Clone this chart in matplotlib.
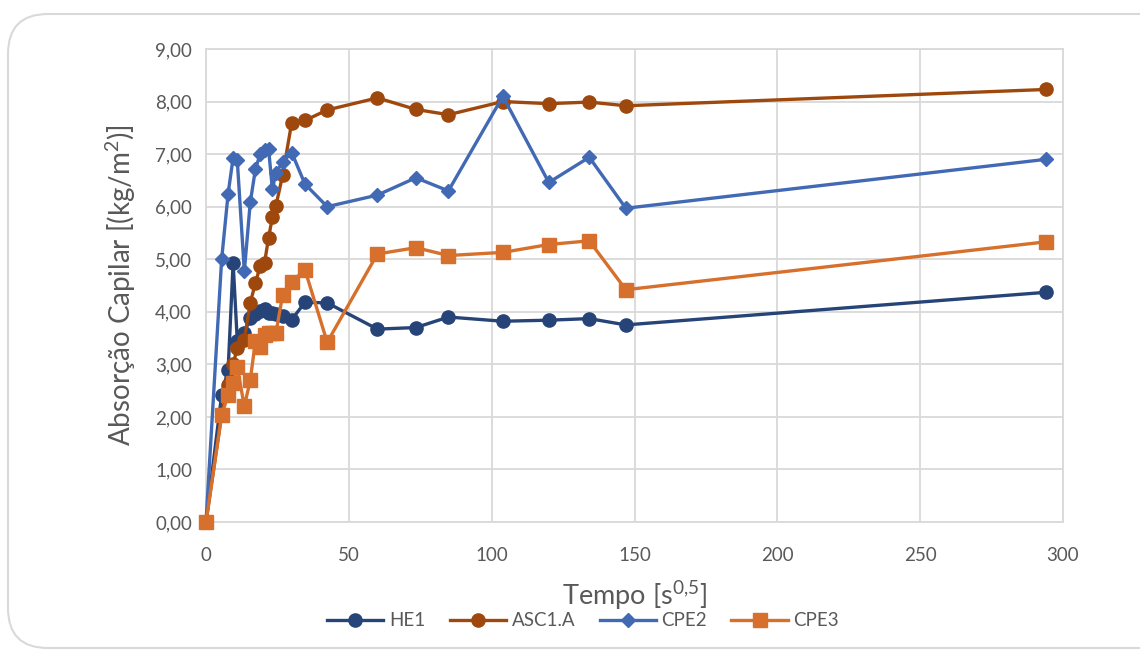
# absorcao_capilar.py - capillary absorption vs sqrt(time)

import matplotlib
matplotlib.use("Agg")
import matplotlib.pyplot as plt
from matplotlib.patches import FancyBboxPatch
from matplotlib.ticker import FuncFormatter

OUTPUT = "out.png"

# time in s^0.5
tempo = [0, 5.48, 7.75, 9.49, 10.95, 13.42, 15.49, 17.32, 18.97, 20.49, 21.91,
         23.24, 24.49, 26.83, 30.0, 34.64, 42.43, 60.0, 73.48, 84.85, 103.92,
         120.0, 134.16, 146.97, 293.94]

he1 = [0, 2.42, 2.90, 4.93, 3.45, 3.60, 3.88, 3.95, 4.02, 4.05, 3.98,
       3.97, 3.95, 3.92, 3.85, 4.18, 4.17, 3.67, 3.70, 3.90, 3.82,
       3.84, 3.87, 3.75, 4.37]

asc1a = [0, 2.05, 2.60, 3.00, 3.31, 3.47, 4.17, 4.55, 4.87, 4.93, 5.41,
         5.80, 6.02, 6.60, 7.60, 7.64, 7.84, 8.07, 7.85, 7.75, 8.00,
         7.96, 7.99, 7.92, 8.23]

cpe2 = [0, 5.00, 6.25, 6.93, 6.88, 4.77, 6.08, 6.72, 7.00, 7.08, 7.10,
        6.33, 6.65, 6.85, 7.03, 6.43, 6.00, 6.22, 6.55, 6.30, 8.10,
        6.46, 6.94, 5.97, 6.90]

cpe3 = [0, 2.03, 2.42, 2.65, 2.95, 2.20, 2.70, 3.45, 3.33, 3.55, 3.60,
        3.60, 3.60, 4.32, 4.57, 4.80, 3.42, 5.10, 5.22, 5.07, 5.13,
        5.28, 5.35, 4.42, 5.33]

FONT = ["Lato", "DejaVu Sans"]
GRAY = "#595959"
GRID = "#D9D9D9"

plt.rcParams["font.family"] = FONT
plt.rcParams["mathtext.fontset"] = "custom"
plt.rcParams["mathtext.rm"] = "Lato"
plt.rcParams["mathtext.it"] = "Lato"


def plot_chart():
    fig = plt.figure(figsize=(11.4, 6.5), dpi=100)

    # chart area frame (rounded, runs off the right edge)
    frame = FancyBboxPatch((8 / 1140, 2 / 650), 1.2, 634 / 650,
                           boxstyle="round,pad=0,rounding_size=0.035",
                           transform=fig.transFigure, fill=False,
                           edgecolor=GRID, linewidth=1.5,
                           mutation_aspect=1140 / 650)
    fig.patches.append(frame)

    ax = fig.add_axes([206 / 1140, 1 - 522 / 650, 857 / 1140, 473 / 650])

    ax.plot(tempo, he1, color="#264478", lw=2.4, marker="o", ms=9.5, label="HE1", zorder=3, clip_on=False)
    ax.plot(tempo, asc1a, color="#9E480E", lw=2.4, marker="o", ms=9.5, label="ASC1.A", zorder=4, clip_on=False)
    ax.plot(tempo, cpe2, color="#4169B4", lw=2.4, marker="D", ms=7, label="CPE2", zorder=5, clip_on=False)
    ax.plot(tempo, cpe3, color="#D6702C", lw=2.4, marker="s", ms=10.5, label="CPE3", zorder=6, clip_on=False)

    ax.set_xlim(0, 300)
    ax.set_ylim(0, 9)
    ax.set_xticks(range(0, 301, 50))
    ax.set_yticks(range(0, 10))
    ax.yaxis.set_major_formatter(FuncFormatter(lambda v, p: f"{v:.2f}".replace(".", ",")))

    ax.grid(True, color=GRID, linewidth=1.3)
    ax.set_axisbelow(True)
    for s in ax.spines.values():
        s.set_color(GRID)
        s.set_linewidth(1.3)
    ax.tick_params(length=0, labelsize=13.5, colors=GRAY)
    ax.tick_params(axis="x", pad=18)
    ax.tick_params(axis="y", pad=10)

    ax.set_ylabel("Absorção Capilar [(kg/m$^{2}$)]", fontsize=20, color=GRAY, labelpad=12)
    ax.set_xlabel(r"Tempo [s$^{0{,}5}$]", fontsize=19.5, color=GRAY, labelpad=11)

    fig.legend(loc="center", bbox_to_anchor=(583 / 1140, 1 - 621 / 650), ncol=4,
               frameon=False, fontsize=13.5, labelcolor=GRAY, handlelength=3.0,
               handletextpad=0.3, columnspacing=1.3, borderpad=0)

    fig.savefig(OUTPUT, dpi=100)


if __name__ == "__main__":
    plot_chart()
